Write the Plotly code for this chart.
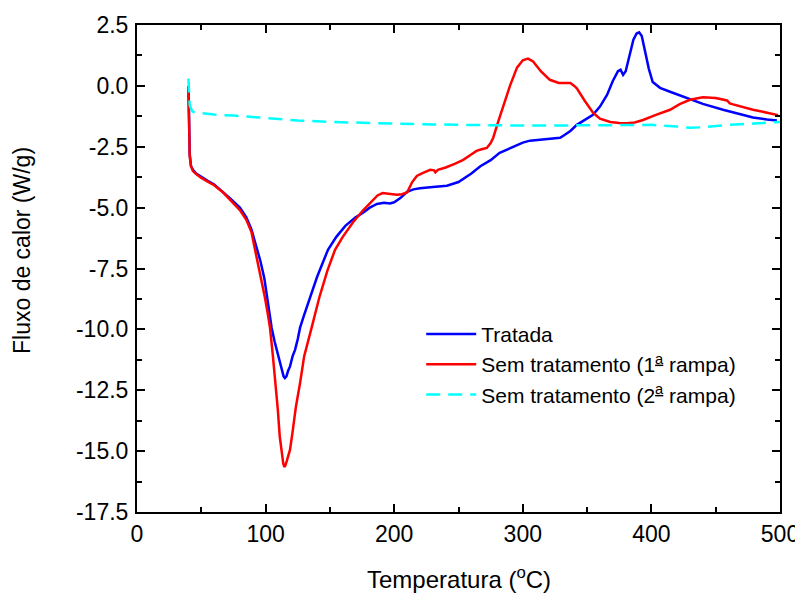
import plotly.graph_objects as go

# Tratada (blue)
x_trat = [40, 40.5, 41, 42, 43.5, 46, 50, 55, 60, 67, 72, 80, 85, 89, 93, 96, 99, 102, 104.7, 107, 108.6,
          110.5, 112.5, 114, 115, 116.2, 117.5, 119, 121, 122.9, 125, 126.8, 130, 134.5, 140, 148.5, 155,
          162, 170, 176, 181, 186.6, 192, 196.7, 200, 205, 210, 215, 220, 230, 241, 250, 260, 267, 275,
          282, 292.5, 300, 305.6, 315, 322, 329, 333, 337, 342, 348, 354.6, 360, 365.5, 370, 374, 376,
          378, 380, 383, 386, 388.5, 390.5, 392.5, 395, 398, 401, 406.7, 415, 427.7, 440, 455.7, 465,
          479, 490, 497.6]
y_trat = [0.0, -1.5, -2.8, -3.3, -3.45, -3.6, -3.75, -3.9, -4.05, -4.35, -4.6, -5.0, -5.4, -5.9, -6.6,
          -7.2, -7.9, -9.0, -9.93, -10.5, -10.84, -11.3, -11.7, -11.93, -12.0, -11.93, -11.7, -11.52,
          -11.1, -10.84, -10.4, -9.93, -9.4, -8.7, -7.85, -6.73, -6.2, -5.75, -5.4, -5.2, -5.0, -4.85,
          -4.8, -4.83, -4.78, -4.6, -4.35, -4.25, -4.2, -4.15, -4.1, -3.95, -3.6, -3.3, -3.05, -2.75,
          -2.5, -2.33, -2.25, -2.2, -2.18, -2.13, -2.0, -1.85, -1.6, -1.4, -1.19, -0.85, -0.37, 0.2,
          0.6, 0.66, 0.45, 0.6, 1.2, 1.9, 2.15, 2.2, 2.05, 1.4, 0.7, 0.16, -0.08, -0.25, -0.5, -0.74,
          -0.98, -1.12, -1.3, -1.38, -1.42]

# Sem tratamento (1a rampa) (red)
x_sem1 = [40, 40.5, 41, 42, 43.5, 46, 50, 55, 60, 67, 72, 80, 85, 89, 91.8, 95, 97.5, 99.5, 101.5, 103.4,
          105.5, 107.8, 109.5, 111, 112.5, 113.7, 114.5, 115.3, 116.5, 118, 119, 121, 123.5, 126.8, 130,
          135.8, 141.7, 148, 154, 160, 168, 176, 182, 187, 191, 196, 202, 206, 210, 214, 217.6, 222, 228,
          231, 232, 234, 240, 247, 253.7, 259, 264, 268, 272, 275, 277, 281, 285, 290, 295.5, 300, 304,
          308, 314, 321, 328, 333, 337, 340, 342, 348, 354.6, 360, 368, 375, 381, 387, 393.5, 403, 414.5,
          422, 430, 440, 450, 458.8, 461, 463.5, 470, 479, 490, 498.5]
y_sem1 = [-0.16, -1.8, -2.9, -3.3, -3.5, -3.62, -3.78, -3.93, -4.08, -4.38, -4.65, -5.1, -5.5, -6.0, -6.73,
          -7.5, -8.1, -8.7, -9.3, -9.93, -11.0, -12.2, -13.3, -14.4, -15.1, -15.5, -15.65, -15.6, -15.4,
          -15.1, -14.94, -14.2, -13.2, -12.2, -11.1, -9.93, -8.7, -7.6, -6.73, -6.2, -5.6, -5.1, -4.75,
          -4.5, -4.4, -4.42, -4.47, -4.45, -4.38, -3.95, -3.7, -3.58, -3.45, -3.47, -3.55, -3.45, -3.35,
          -3.2, -3.04, -2.85, -2.67, -2.6, -2.55, -2.35, -2.13, -1.45, -0.8, 0.0, 0.75, 1.05, 1.12, 1.0,
          0.6, 0.25, 0.12, 0.12, 0.12, 0.0, -0.1, -0.6, -1.1, -1.35, -1.48, -1.52, -1.53, -1.5, -1.4,
          -1.2, -0.98, -0.75, -0.57, -0.47, -0.5, -0.6, -0.72, -0.76, -0.85, -0.98, -1.1, -1.2]

# Sem tratamento (2a rampa) (cyan, dashed)
x_sem2 = [40, 40.3, 41, 43, 45, 50, 60, 75, 100, 125, 150, 175, 200, 250, 300, 350, 380, 400, 420, 430,
          440, 460, 480, 500]
y_sem2 = [0.3, -0.2, -0.8, -1.05, -1.1, -1.12, -1.18, -1.22, -1.32, -1.42, -1.48, -1.52, -1.55, -1.6,
          -1.63, -1.62, -1.6, -1.6, -1.67, -1.72, -1.7, -1.6, -1.55, -1.48]

x_ticks = [0, 100, 200, 300, 400, 500]
y_ticks = [2.5, 0.0, -2.5, -5.0, -7.5, -10.0, -12.5, -15.0, -17.5]

FONT = "Liberation Sans, Arial, sans-serif"

fig = go.Figure()
fig.add_trace(go.Scatter(x=x_trat, y=y_trat, mode="lines", name="Tratada",
                         line=dict(color="#0000FF", width=2.5)))
fig.add_trace(go.Scatter(x=x_sem1, y=y_sem1, mode="lines",
                         name="Sem tratamento (1<sup><u>a</u></sup> rampa)",
                         line=dict(color="#FF0000", width=2.5)))
fig.add_trace(go.Scatter(x=x_sem2, y=y_sem2, mode="lines",
                         name="Sem tratamento (2<sup><u>a</u></sup> rampa)",
                         line=dict(color="#00FFFF", width=2.5, dash="14px,8px")))

axis_common = dict(showline=True, linecolor="black", linewidth=2, mirror="ticks",
                   ticks="inside", ticklen=8, tickwidth=1.5, tickcolor="black",
                   showgrid=False, zeroline=False, automargin=False,
                   tickfont=dict(family=FONT, size=23, color="black"))

fig.update_xaxes(range=[0, 500], tickvals=x_ticks, ticktext=[str(v) for v in x_ticks],
                 minor=dict(ticks="inside", ticklen=5, tickwidth=1.5, tickcolor="black", dtick=50,
                            tick0=0, showgrid=False),
                 **axis_common)
fig.update_yaxes(range=[-17.5, 2.5], tickvals=y_ticks, ticktext=[f"{v:.1f}" for v in y_ticks],
                 ticklabelstandoff=2,
                 minor=dict(ticks="inside", ticklen=5, tickwidth=1.5, tickcolor="black", dtick=1.25,
                            tick0=0, showgrid=False),
                 **axis_common)

fig.add_annotation(text="Temperatura (<sup>o</sup>C)", xref="paper", yref="paper",
                   x=0.5, y=-0.1355, xanchor="center", yanchor="middle", showarrow=False,
                   font=dict(family=FONT, size=24, color="black"))
fig.add_annotation(text="Fluxo de calor (W/g)", xref="paper", yref="paper",
                   x=-0.1788, y=0.536, xanchor="center", yanchor="middle", showarrow=False,
                   textangle=-90, font=dict(family=FONT, size=23, color="black"))

# page body has an 8px margin, so the figure is reduced by 8px to keep plot area aligned
fig.update_layout(
    width=795, height=587,
    margin=dict(l=129, r=23, t=17, b=83),
    paper_bgcolor="white", plot_bgcolor="white",
    font=dict(family=FONT, color="black"),
    showlegend=True,
    legend=dict(x=0.442, y=0.407, xanchor="left", yanchor="top",
                bgcolor="rgba(0,0,0,0)", font=dict(family=FONT, size=21, color="black"),
                itemwidth=50, tracegroupgap=0),
)

fig.write_html("out.html")
